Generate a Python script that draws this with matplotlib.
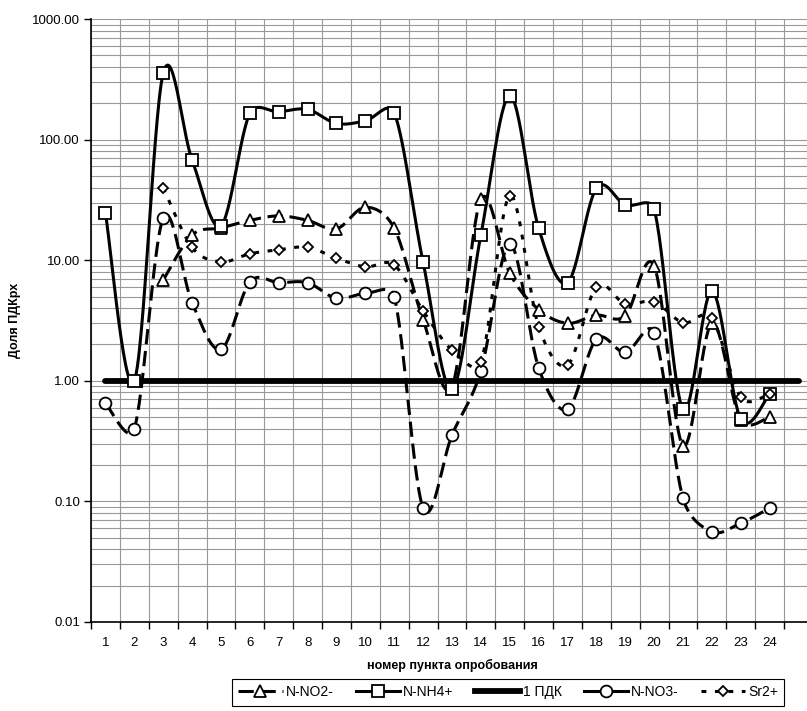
import numpy as np
import matplotlib.pyplot as plt
from matplotlib.lines import Line2D
from matplotlib.ticker import FixedLocator, LogLocator, FuncFormatter, NullFormatter

plt.rcParams['font.family'] = ['Liberation Sans', 'DejaVu Sans']

nan = np.nan
points = list(range(1, 25))
point_labels = [str(p) for p in points]

no2 = [nan, nan, 6.85, 16.2, 18.5, 21.4, 23.3, 21.4, 18.2, 27.5, 18.4, 3.2,
       0.9, 32.0, 7.8, 3.9, 3.0, 3.5, 3.45, 8.95, 0.29, 3.0, 0.47, 0.50]
nh4 = [24.5, 1.0, 355, 67.7, 19.3, 165, 170, 178, 136, 143, 167, 9.6,
       0.85, 16.2, 231, 18.4, 6.5, 39.5, 28.7, 26.4, 0.58, 5.55, 0.48, 0.78]
pdk_x = list(range(1, 26))
pdk = [1.0, 1.0, 1.0, 1.0, 1.0, 1.0, 1.0, 1.0, 1.0, 1.0, 1.0, 1.0, 1.0,
       1.0, 1.0, 1.0, 1.0, 1.0, 1.0, 1.0, 1.0, 1.0, 1.0, 1.0, 1.0]
no3 = [0.65, 0.40, 22.3, 4.44, 1.82, 6.6, 6.5, 6.5, 4.83, 5.3, 4.98, 0.088,
       0.355, 1.21, 13.6, 1.28, 0.58, 2.22, 1.72, 2.5, 0.106, 0.056, 0.066, 0.088]
sr = [nan, nan, 39.9, 12.8, 9.7, 11.3, 12.2, 12.8, 10.4, 8.8, 9.1, 3.8,
      1.8, 1.44, 34.3, 2.81, 1.35, 6.03, 4.33, 4.53, 3.03, 3.3, 0.73, 0.78]

# pixel scale of the plot: px per category, px per decade
SX, SY = 28.87, 120.6


def smooth(xs, ys, n=30):
    # smoothed line like a spreadsheet: Bezier through the points,
    # arms = 1/6 of neighbour chord, capped at half the segment (screen space)
    xs = np.asarray(xs, float)
    ly = np.log10(np.asarray(ys, float))
    ok = ~np.isnan(ly)
    p = np.column_stack([xs[ok] * SX, ly[ok] * SY])
    m = len(p)
    t = np.linspace(0, 1, n)[:, None]
    out = []
    for i in range(m - 1):
        i0 = i - 1 if i > 0 else i
        i3 = i + 2 if i + 2 < m else i + 1
        d12 = np.linalg.norm(p[i + 1] - p[i])
        a1 = (p[i + 1] - p[i0]) / 6
        a2 = (p[i3] - p[i]) / 6
        for a in (a1, a2):
            L = np.linalg.norm(a)
            if L > d12 / 2:
                a *= (d12 / 2) / L
        c1 = p[i] + a1
        c2 = p[i + 1] - a2
        seg = ((1 - t) ** 3 * p[i] + 3 * (1 - t) ** 2 * t * c1
               + 3 * (1 - t) * t ** 2 * c2 + t ** 3 * p[i + 1])
        out.append(seg)
    out = np.vstack(out)
    return out[:, 0] / SX, 10 ** (out[:, 1] / SY)


fig = plt.figure(figsize=(8.07, 7.11), dpi=100)
ax = fig.add_axes([91 / 807, 1 - 622 / 711, 722 / 807, 603 / 711])

lw = 2.2
long_dash = (0, (5.0, 2.2))
short_dash = (0, (1.6, 2.8))

series = [
    ('N-NO2-', no2, long_dash, '^', 9),
    ('N-NH4+', nh4, '-', 's', 8.5),
    ('N-NO3-', no3, long_dash, 'o', 8.5),
    ('Sr2+', sr, short_dash, 'D', 5.5),
]

# horizontal 1 ПДК line
ax.plot(pdk_x, pdk, color='black', lw=4.2, solid_capstyle='round', zorder=3)

for name, vals, ls, mk, ms in series:
    sx, sy = smooth(points, vals)
    ax.plot(sx, sy, color='black', lw=lw, linestyle=ls, zorder=4)
for name, vals, ls, mk, ms in series:
    ax.plot(points, vals, linestyle='none', marker=mk, markersize=ms,
            markerfacecolor='white', markeredgecolor='black',
            markeredgewidth=1.3, zorder=5)

ax.set_yscale('log')
ax.set_ylim(0.01, 1000)
ax.set_xlim(0.5, 25.5)

ax.yaxis.set_major_locator(FixedLocator([0.01, 0.1, 1, 10, 100, 1000]))
ax.yaxis.set_major_formatter(FuncFormatter(lambda v, _: f'{v:.2f}'))
ax.yaxis.set_minor_locator(LogLocator(base=10, subs=np.arange(2, 10)))
ax.yaxis.set_minor_formatter(NullFormatter())

ax.xaxis.set_major_locator(FixedLocator(np.arange(0.5, 26, 1)))
ax.xaxis.set_major_formatter(NullFormatter())
ax.xaxis.set_minor_locator(FixedLocator(points))
ax.set_xticklabels(point_labels, minor=True)

ax.tick_params(axis='both', which='major', direction='out', length=5,
               width=1, color='black', labelsize=9.5)
ax.tick_params(axis='y', which='major', pad=3)
ax.tick_params(axis='x', which='minor', length=0, labelsize=9.5, pad=11)
ax.tick_params(axis='y', which='minor', length=0)

ax.grid(True, which='major', axis='both', color='#999999', lw=0.8)
ax.grid(True, which='minor', axis='y', color='#999999', lw=0.8)
ax.set_axisbelow(True)

for s in ['top', 'right']:
    ax.spines[s].set_visible(False)
for s in ['left', 'bottom']:
    ax.spines[s].set_linewidth(1.2)

ax.set_ylabel('Доля ПДКрх', fontsize=9, fontweight='bold')
ax.yaxis.set_label_coords(-0.097, 0.5)
ax.set_xlabel('номер пункта опробования', fontsize=9, fontweight='bold')
ax.xaxis.set_label_coords(0.5, -0.062)

handles = [
    Line2D([], [], color='black', lw=lw, linestyle=long_dash, marker='^',
           markersize=9, markerfacecolor='white', markeredgewidth=1.3),
    Line2D([], [], color='black', lw=lw, linestyle='-', marker='s',
           markersize=8.5, markerfacecolor='white', markeredgewidth=1.3),
    Line2D([], [], color='black', lw=4.2),
    Line2D([], [], color='black', lw=lw, linestyle='-', marker='o',
           markersize=8.5, markerfacecolor='white', markeredgewidth=1.3),
    Line2D([], [], color='black', lw=lw, linestyle=short_dash, marker='D',
           markersize=5.5, markerfacecolor='white', markeredgewidth=1.3),
]
labels = ['N-NO2-', 'N-NH4+', '1 ПДК', 'N-NO3-', 'Sr2+']
leg = fig.legend(handles, labels, loc='upper left',
                 bbox_to_anchor=(232 / 807, 1 - 679 / 711), ncol=5,
                 fontsize=10, frameon=True, fancybox=False, framealpha=1,
                 edgecolor='black', handlelength=3.2, handletextpad=0.2,
                 columnspacing=1.6, borderpad=0.45, borderaxespad=0)
leg.get_frame().set_linewidth(0.8)

fig.savefig('out.png', dpi=100)
